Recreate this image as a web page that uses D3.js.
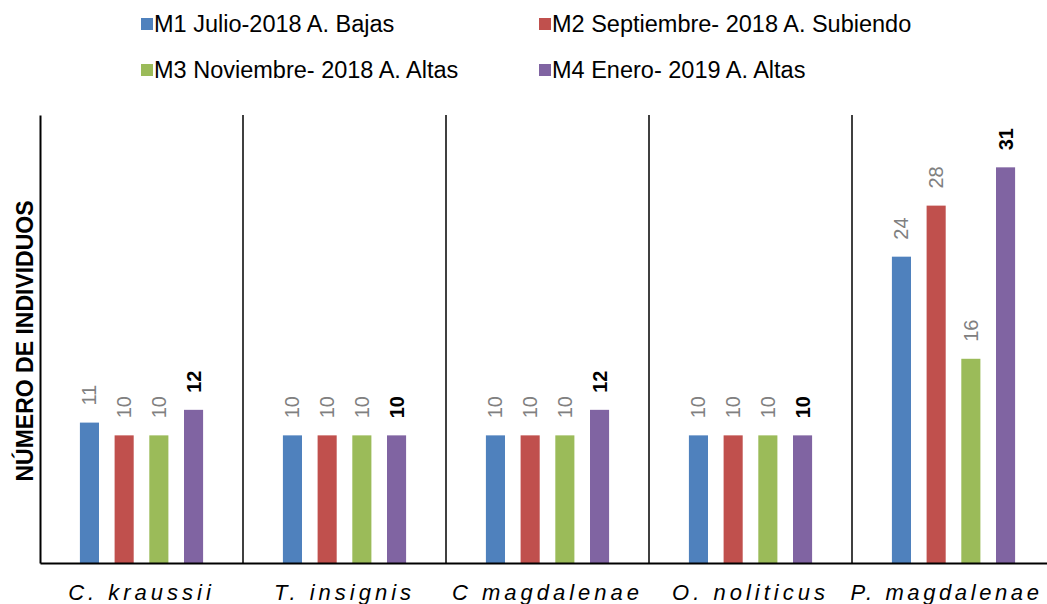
<!DOCTYPE html>
<html>
<head>
<meta charset="utf-8">
<script src="https://cdn.jsdelivr.net/npm/d3@7"></script>
<style>
html,body{margin:0;padding:0;background:#fff;}
svg{display:block;font-family:"Liberation Sans",Arial,sans-serif;}
</style>
</head>
<body>
<svg id="chart" width="1047" height="604"></svg>
<script>
const categories = ["C. kraussii", "T. insignis", "C magdalenae", "O. noliticus", "P. magdalenae"];
const seriesNames = ["M1 Julio-2018 A. Bajas", "M2 Septiembre- 2018 A. Subiendo", "M3 Noviembre- 2018 A. Altas", "M4 Enero- 2019 A. Altas"];
const m1 = [11, 10, 10, 10, 24];
const m2 = [10, 10, 10, 10, 28];
const m3 = [10, 10, 10, 10, 16];
const m4 = [12, 10, 12, 10, 31];
const colors = ["#4F81BD", "#C0504D", "#9BBB59", "#8064A2"];
const yTitle = "NÚMERO DE INDIVIDUOS";

const seriesValues = [m1, m2, m3, m4];
const svg = d3.select("#chart");

const x0 = d3.scaleBand().domain(categories).range([40, 1055]).padding(0);
const x1 = d3.scaleBand().domain(d3.range(4)).range([0, x0.bandwidth()])
  .paddingInner(0.45).paddingOuter(1.15);
const y = d3.scaleLinear().domain([0, 35.1]).range([563, 115]);

// category dividers
svg.append("g").selectAll("line").data(categories)
  .join("line")
  .attr("x1", d => x0(d) + x0.bandwidth())
  .attr("x2", d => x0(d) + x0.bandwidth())
  .attr("y1", y.range()[1]).attr("y2", y(0))
  .attr("stroke", "#000").attr("stroke-width", 1.5);

// bars
const groups = svg.append("g").selectAll("g").data(categories).join("g")
  .attr("transform", d => `translate(${x0(d)},0)`);

groups.selectAll("rect")
  .data((c, ci) => seriesValues.map((s, si) => ({si, v: s[ci]})))
  .join("rect")
  .attr("x", d => x1(d.si))
  .attr("width", x1.bandwidth())
  .attr("y", d => y(d.v))
  .attr("height", d => y(0) - y(d.v))
  .attr("fill", d => colors[d.si]);

groups.selectAll("text")
  .data((c, ci) => seriesValues.map((s, si) => ({si, v: s[ci]})))
  .join("text")
  .attr("transform", d => `translate(${x1(d.si) + x1.bandwidth() / 2 + 7},${y(d.v) - 17}) rotate(-90)`)
  .attr("text-anchor", "start")
  .attr("font-size", 20)
  .attr("font-weight", d => d.si === 3 ? "bold" : "normal")
  .attr("fill", d => d.si === 3 ? "#000" : "#808080")
  .text(d => d.v);

// axes
const yAxis = d3.axisLeft(y).tickValues([]).tickSizeOuter(0);
svg.append("g").attr("transform", "translate(40,0)").call(yAxis)
  .select(".domain").attr("stroke", "#000").attr("stroke-width", 2);

const xAxis = d3.axisBottom(x0).tickSize(0).tickSizeOuter(0);
const gx = svg.append("g").attr("transform", `translate(0,${y(0)})`).call(xAxis);
gx.select(".domain").attr("stroke", "#000").attr("stroke-width", 2);
gx.selectAll(".tick text")
  .attr("dy", 0).attr("y", 37)
  .attr("x", (d, i) => i === categories.length - 1 ? -7 : 0)
  .attr("font-size", 22).attr("font-style", "italic")
  .attr("font-family", "Liberation Sans, Arial, sans-serif")
  .attr("letter-spacing", (d, i) => i === categories.length - 1 ? "3.6px" : "4px")
  .attr("fill", "#000");

// y title
svg.append("text")
  .attr("transform", "translate(33,341) rotate(-90)")
  .attr("text-anchor", "middle")
  .attr("font-size", 23).attr("font-weight", "bold")
  .text(yTitle);

// legend
const legendPos = [[141, 24], [539, 24], [141, 70], [539, 70]];
const lg = svg.append("g").selectAll("g").data(seriesNames).join("g")
  .attr("transform", (d, i) => `translate(${legendPos[i][0]},${legendPos[i][1]})`);
lg.append("rect").attr("x", 0).attr("y", -6).attr("width", 12).attr("height", 12)
  .attr("fill", (d, i) => colors[i]);
lg.append("text").attr("x", 13).attr("y", 8).attr("font-size", 23.5).attr("fill", "#000")
  .text(d => d);
</script>
</body>
</html>
